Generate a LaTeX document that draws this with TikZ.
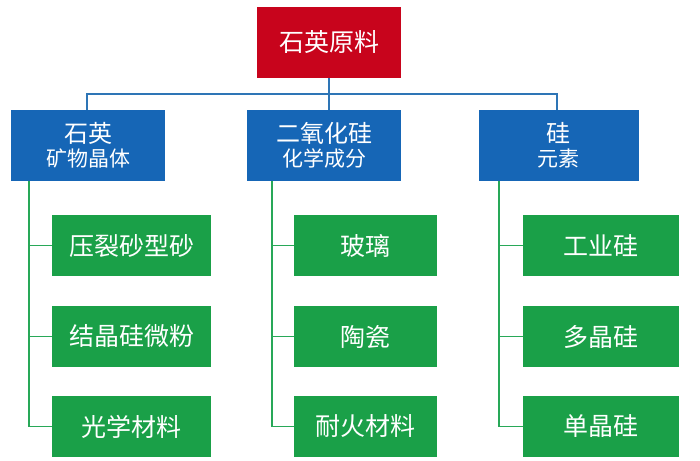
\documentclass[tikz,border=0pt]{standalone}
\usepackage{fontspec}
\newfontfamily\cjk{Noto Sans CJK SC}
\definecolor{topred}{RGB}{200,4,28}
\definecolor{midblue}{RGB}{22,102,182}
\definecolor{leafgreen}{RGB}{26,160,72}
\definecolor{blueline}{RGB}{46,117,182}
\definecolor{greenline}{RGB}{40,168,88}
\begin{document}
\begin{tikzpicture}[x=1pt,y=-1pt,
  box/.style={draw=none,inner sep=0pt,text=white,align=center,font=\cjk\fontsize{25}{28}\selectfont},
  topbox/.style={box,fill=topred,minimum width=144pt,minimum height=71pt},
  midbox/.style={box,fill=midblue,minimum height=71pt,font=\cjk\fontsize{24}{27}\selectfont},
  leaf/.style={box,fill=leafgreen,minimum height=61pt},
  bl/.style={draw=blueline,line width=1.8pt},
  gl/.style={draw=greenline,line width=1.8pt}]
\useasboundingbox (0,0) rectangle (700,460);
\node[topbox] (root) at (329,42.5) {石英原料};
\node[midbox,minimum width=154pt] (m1) at (88,145.5) {石英\\[-3pt]{\fontsize{21}{24}\selectfont 矿物晶体}};
\node[midbox,minimum width=154pt] (m2) at (324,145.5) {二氧化硅\\[-3pt]{\fontsize{21}{24}\selectfont 化学成分}};
\node[midbox,minimum width=160pt] (m3) at (558.5,145.5) {硅\\[-3pt]{\fontsize{21}{24}\selectfont 元素}};
% leaves column 1
\node[leaf,minimum width=159pt] (a1) at (131.5,245.5) {压裂砂型砂};
\node[leaf,minimum width=159pt] (a2) at (131.5,336.5) {结晶硅微粉};
\node[leaf,minimum width=159pt] (a3) at (131.5,426.5) {光学材料};
% leaves column 2
\node[leaf,minimum width=143pt] (b1) at (365.5,245.5) {玻璃};
\node[leaf,minimum width=143pt] (b2) at (365.5,336.5) {陶瓷};
\node[leaf,minimum width=143pt] (b3) at (365.5,426.5) {耐火材料};
% leaves column 3
\node[leaf,minimum width=156pt] (c1) at (601,245.5) {工业硅};
\node[leaf,minimum width=156pt] (c2) at (601,336.5) {多晶硅};
\node[leaf,minimum width=156pt] (c3) at (601,426.5) {单晶硅};
% blue connectors
\coordinate (hb) at (329,94);
\draw[bl] (root.south) -- (hb);
\draw[bl] (hb) -- (329,110);
\draw[bl] (87,110) -- (87,94) -- (557,94) -- (557,110);
% green connectors
\draw[gl] (29,181) |- (a3.west);
\draw[gl] (29,245.5) -- (a1.west);
\draw[gl] (29,336.5) -- (a2.west);
\draw[gl] (272,181) |- (b3.west);
\draw[gl] (272,245.5) -- (b1.west);
\draw[gl] (272,336.5) -- (b2.west);
\draw[gl] (499,181) |- (c3.west);
\draw[gl] (499,245.5) -- (c1.west);
\draw[gl] (499,336.5) -- (c2.west);
\end{tikzpicture}
\end{document}
